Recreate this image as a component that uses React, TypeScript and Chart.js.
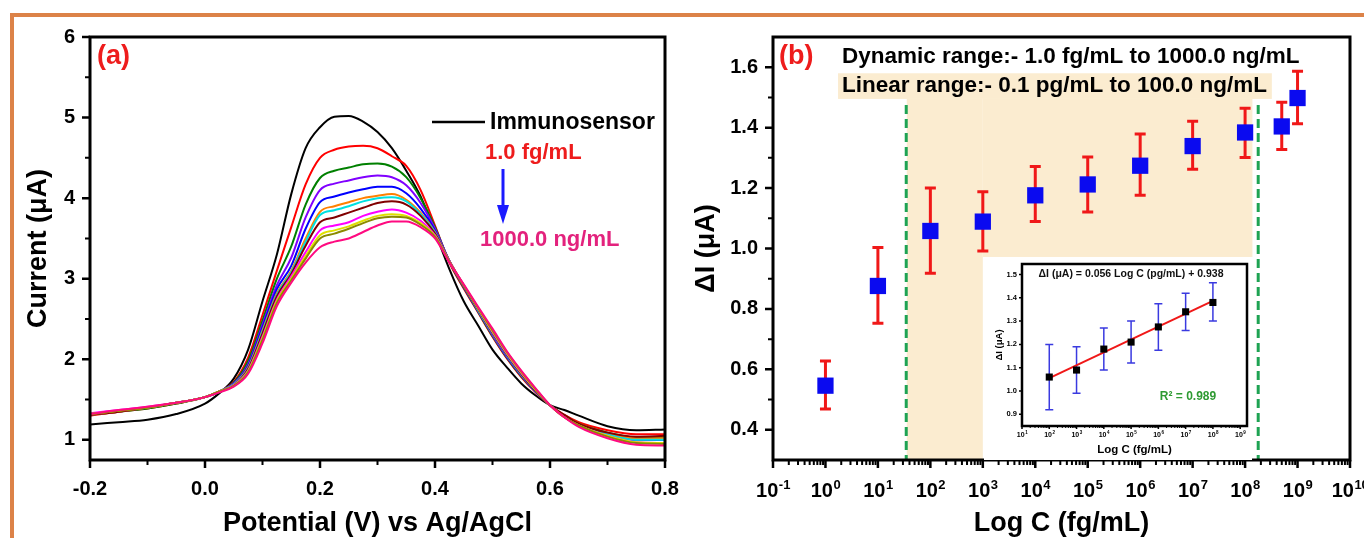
import React, { useEffect, useRef } from 'react';
import { Chart, registerables } from 'chart.js';
Chart.register(...registerables);

const FONT = "'Liberation Sans', Arial, Helvetica, sans-serif";
const ORANGE = '#dc8248';

// ---------------- Panel (a): DPV curves ----------------
const potentialV = [-0.2, -0.15, -0.1, -0.05, 0, 0.025, 0.05, 0.075, 0.1, 0.125, 0.15, 0.175, 0.2, 0.225, 0.25, 0.275, 0.3, 0.325, 0.35, 0.375, 0.4, 0.425, 0.45, 0.475, 0.5, 0.525, 0.55, 0.575, 0.6, 0.625, 0.65, 0.7, 0.75, 0.8];

const curveImmunosensor = [1.19, 1.22, 1.25, 1.32, 1.45, 1.58, 1.76, 2.12, 2.72, 3.30, 4.05, 4.62, 4.88, 5.01, 5.02, 4.95, 4.82, 4.62, 4.34, 4.02, 3.58, 3.12, 2.72, 2.42, 2.12, 1.90, 1.70, 1.55, 1.43, 1.37, 1.30, 1.17, 1.12, 1.13];
const curve1fg = [1.30, 1.35, 1.39, 1.45, 1.53, 1.60, 1.72, 2.02, 2.55, 3.10, 3.64, 4.17, 4.50, 4.60, 4.64, 4.65, 4.62, 4.52, 4.40, 4.10, 3.66, 3.20, 2.88, 2.58, 2.28, 2.01, 1.78, 1.59, 1.43, 1.31, 1.22, 1.12, 1.07, 1.07];
const curve10fg = [1.31, 1.35, 1.39, 1.45, 1.53, 1.60, 1.71, 1.98, 2.48, 3.00, 3.40, 3.92, 4.25, 4.34, 4.38, 4.42, 4.43, 4.39, 4.26, 4.00, 3.64, 3.21, 2.89, 2.59, 2.29, 2.02, 1.79, 1.60, 1.43, 1.30, 1.20, 1.09, 1.03, 1.03];
const curve100fg = [1.31, 1.35, 1.40, 1.46, 1.53, 1.60, 1.70, 1.94, 2.43, 2.92, 3.26, 3.76, 4.10, 4.18, 4.22, 4.26, 4.28, 4.26, 4.16, 3.94, 3.62, 3.22, 2.90, 2.60, 2.30, 2.03, 1.80, 1.60, 1.43, 1.30, 1.19, 1.08, 1.01, 1.00];
const curve1pg = [1.32, 1.36, 1.40, 1.46, 1.53, 1.60, 1.70, 1.92, 2.40, 2.87, 3.16, 3.62, 3.95, 4.02, 4.07, 4.11, 4.14, 4.14, 4.06, 3.87, 3.60, 3.22, 2.90, 2.60, 2.31, 2.04, 1.80, 1.60, 1.43, 1.29, 1.18, 1.07, 1.00, 1.00];
const curve10pg = [1.31, 1.35, 1.40, 1.46, 1.53, 1.60, 1.69, 1.90, 2.36, 2.82, 3.10, 3.50, 3.83, 3.90, 3.95, 4.00, 4.03, 4.05, 3.98, 3.82, 3.58, 3.22, 2.91, 2.61, 2.32, 2.05, 1.81, 1.61, 1.43, 1.30, 1.20, 1.08, 1.02, 1.02];
const curve100pg = [1.32, 1.36, 1.40, 1.46, 1.53, 1.60, 1.69, 1.89, 2.34, 2.80, 3.08, 3.46, 3.79, 3.85, 3.90, 3.96, 4.00, 4.01, 3.96, 3.80, 3.57, 3.22, 2.91, 2.61, 2.32, 2.05, 1.81, 1.61, 1.43, 1.29, 1.19, 1.07, 1.00, 1.00];
const curve1ng = [1.31, 1.35, 1.40, 1.46, 1.53, 1.60, 1.68, 1.88, 2.32, 2.78, 3.06, 3.41, 3.70, 3.76, 3.82, 3.88, 3.94, 3.96, 3.92, 3.78, 3.56, 3.22, 2.91, 2.62, 2.33, 2.06, 1.82, 1.61, 1.43, 1.31, 1.20, 1.09, 1.04, 1.05];
const curve10ng = [1.33, 1.37, 1.41, 1.46, 1.53, 1.60, 1.68, 1.86, 2.28, 2.74, 3.03, 3.33, 3.60, 3.66, 3.70, 3.78, 3.83, 3.86, 3.82, 3.72, 3.54, 3.22, 2.92, 2.63, 2.34, 2.07, 1.83, 1.62, 1.43, 1.28, 1.18, 1.05, 0.97, 0.96];
const curve100ng = [1.32, 1.36, 1.40, 1.46, 1.53, 1.60, 1.67, 1.85, 2.26, 2.72, 3.00, 3.28, 3.54, 3.60, 3.65, 3.72, 3.78, 3.80, 3.78, 3.69, 3.53, 3.21, 2.92, 2.63, 2.35, 2.08, 1.84, 1.62, 1.43, 1.28, 1.18, 1.05, 0.97, 0.96];
const curve500ng = [1.32, 1.36, 1.40, 1.46, 1.53, 1.60, 1.67, 1.84, 2.24, 2.70, 2.98, 3.25, 3.50, 3.56, 3.62, 3.69, 3.75, 3.77, 3.76, 3.67, 3.52, 3.21, 2.92, 2.64, 2.36, 2.09, 1.85, 1.63, 1.43, 1.28, 1.18, 1.04, 0.96, 0.95];
const curve1000ng = [1.32, 1.37, 1.41, 1.46, 1.53, 1.59, 1.66, 1.82, 2.20, 2.66, 2.95, 3.20, 3.39, 3.46, 3.50, 3.58, 3.66, 3.71, 3.71, 3.64, 3.50, 3.20, 2.93, 2.65, 2.38, 2.10, 1.86, 1.64, 1.43, 1.28, 1.16, 1.02, 0.94, 0.93];

const curves = [curveImmunosensor, curve1fg, curve10fg, curve100fg, curve1pg, curve10pg, curve100pg, curve1ng, curve10ng, curve100ng, curve500ng, curve1000ng];
const curveLabels = ['Immunosensor', '1.0 fg/mL', '10 fg/mL', '100 fg/mL', '1 pg/mL', '10 pg/mL', '100 pg/mL', '1 ng/mL', '10 ng/mL', '100 ng/mL', '500 ng/mL', '1000.0 ng/mL'];
const curveColors = ['#000000', '#ff0000', '#008000', '#8000ff', '#0000ff', '#ff8000', '#00e0e0', '#800000', '#ff00ff', '#e0e000', '#8a8a00', '#ff0a80'];

const xTicksA = [-0.2, 0, 0.2, 0.4, 0.6, 0.8];
const xMinorA = [-0.1, 0.1, 0.3, 0.5, 0.7];
const yTicksA = [1, 2, 3, 4, 5, 6];
const yMinorA = [1.5, 2.5, 3.5, 4.5, 5.5];

// ---------------- Panel (b): calibration ----------------
const concFg = [1, 10, 1e2, 1e3, 1e4, 1e5, 1e6, 1e7, 1e8, 5e8, 1e9];
const deltaI = [0.546, 0.876, 1.058, 1.089, 1.176, 1.212, 1.274, 1.339, 1.384, 1.404, 1.498];
const deltaILow = [0.469, 0.753, 0.918, 0.992, 1.089, 1.121, 1.176, 1.262, 1.301, 1.328, 1.413];
const deltaIHigh = [0.628, 1.003, 1.200, 1.188, 1.271, 1.303, 1.379, 1.421, 1.464, 1.484, 1.587];

const xDecadesB = [-1, 0, 1, 2, 3, 4, 5, 6, 7, 8, 9, 10];
const yTicksB = [0.4, 0.6, 0.8, 1.0, 1.2, 1.4, 1.6];
const yMinorB = [0.5, 0.7, 0.9, 1.1, 1.3, 1.5];

// inset (linear range)
const insetConc = [1e2, 1e3, 1e4, 1e5, 1e6, 1e7, 1e8];
const insetDeltaI = [1.06, 1.09, 1.18, 1.21, 1.275, 1.34, 1.38];
const insetLow = [0.92, 0.99, 1.09, 1.12, 1.175, 1.26, 1.30];
const insetHigh = [1.20, 1.19, 1.27, 1.30, 1.375, 1.42, 1.465];
const fitConc = [1e2, 1e8];
const fitDeltaI = [1.055, 1.387];
const insetDecades = [1, 2, 3, 4, 5, 6, 7, 8, 9];
const insetYTicks = [0.9, 1.0, 1.1, 1.2, 1.3, 1.4, 1.5];

const logMinors = (from: number, to: number, max: number) => {
  const out: number[] = [];
  for (let e = from; e < to; e++) for (let k = 2; k <= 9; k++) { const v = k * Math.pow(10, e); if (v < max) out.push(v); }
  return out;
};

const font = (size: number, lineHeight = 1.2) => ({ family: FONT, size, weight: 'bold' as const, lineHeight });

const makeFramePlugin = (cfg: any) => ({
  id: 'frameTicks',
  afterDraw(chart: any) {
    const { ctx, chartArea: a } = chart;
    const sx = chart.scales.x, sy = chart.scales.y;
    ctx.save();
    ctx.strokeStyle = '#000';
    const tick = (vals: number[], len: number, w: number, horiz: boolean) => {
      ctx.lineWidth = w;
      ctx.beginPath();
      for (const v of vals) {
        if (horiz) { const p = sx.getPixelForValue(v); ctx.moveTo(p, a.bottom); ctx.lineTo(p, a.bottom + len); }
        else { const p = sy.getPixelForValue(v); ctx.moveTo(a.left, p); ctx.lineTo(a.left - len, p); }
      }
      ctx.stroke();
    };
    tick(cfg.xMajor, cfg.majorLen, cfg.tickW, true);
    tick(cfg.xMinor, cfg.minorLen, cfg.minorW, true);
    tick(cfg.yMajor, cfg.majorLen, cfg.tickW, false);
    tick(cfg.yMinor, cfg.minorLen, cfg.minorW, false);
    ctx.lineWidth = cfg.frameW;
    ctx.strokeRect(a.left, a.top, a.right - a.left, a.bottom - a.top);
    if (cfg.powLabels) {
      const { exps, base, sup, baseline, rise } = cfg.powLabels;
      ctx.fillStyle = '#000';
      ctx.textBaseline = 'alphabetic';
      ctx.textAlign = 'left';
      for (const e of exps) {
        const p = sx.getPixelForValue(Math.pow(10, e));
        const expText = String(e);
        ctx.font = `bold ${base}px ${FONT}`;
        const wb = ctx.measureText('10').width;
        ctx.font = `bold ${sup}px ${FONT}`;
        const we = ctx.measureText(expText).width;
        const x0 = p - (wb + we) / 2;
        ctx.font = `bold ${base}px ${FONT}`;
        ctx.fillText('10', x0, a.bottom + baseline);
        ctx.font = `bold ${sup}px ${FONT}`;
        ctx.fillText(expText, x0 + wb + 0.5, a.bottom + baseline - rise);
      }
    }
    ctx.restore();
  },
});

const drawErrorBars = (chart: any, xs: number[], lows: number[], highs: number[], color: string, w: number, cap: number) => {
  const { ctx } = chart;
  const sx = chart.scales.x, sy = chart.scales.y;
  ctx.save();
  ctx.strokeStyle = color;
  ctx.lineWidth = w;
  ctx.beginPath();
  xs.forEach((x, i) => {
    const px = sx.getPixelForValue(x);
    const yl = sy.getPixelForValue(lows[i]);
    const yh = sy.getPixelForValue(highs[i]);
    ctx.moveTo(px, yl); ctx.lineTo(px, yh);
    ctx.moveTo(px - cap, yl); ctx.lineTo(px + cap, yl);
    ctx.moveTo(px - cap, yh); ctx.lineTo(px + cap, yh);
  });
  ctx.stroke();
  ctx.restore();
};

const hiddenGrid = (len: number) => ({ display: true, drawOnChartArea: false, drawTicks: true, tickLength: len, tickColor: 'rgba(0,0,0,0)' });

function makeChartA(canvas: HTMLCanvasElement) {
  const annot = {
    id: 'annotA',
    afterDatasetsDraw(chart: any) {
      const { ctx } = chart;
      ctx.save();
      ctx.textBaseline = 'middle';
      ctx.textAlign = 'left';
      ctx.font = `bold 27px ${FONT}`;
      ctx.fillStyle = '#ee1c1c';
      ctx.fillText('(a)', 97, 57);
      ctx.strokeStyle = '#000';
      ctx.lineWidth = 2.5;
      ctx.beginPath(); ctx.moveTo(432, 122); ctx.lineTo(485, 122); ctx.stroke();
      ctx.font = `bold 23px ${FONT}`;
      ctx.fillStyle = '#000';
      ctx.fillText('Immunosensor', 490, 123);
      ctx.font = `bold 22px ${FONT}`;
      ctx.fillStyle = '#ee1c1c';
      ctx.fillText('1.0 fg/mL', 485, 153);
      ctx.strokeStyle = '#1a1aff';
      ctx.fillStyle = '#1a1aff';
      ctx.lineWidth = 3;
      ctx.beginPath(); ctx.moveTo(503, 169); ctx.lineTo(503, 208); ctx.stroke();
      ctx.beginPath(); ctx.moveTo(497, 205); ctx.lineTo(509, 205); ctx.lineTo(503, 224); ctx.closePath(); ctx.fill();
      ctx.font = `bold 22px ${FONT}`;
      ctx.fillStyle = '#e3227d';
      ctx.fillText('1000.0 ng/mL', 480, 240);
      ctx.restore();
    },
  };
  return new Chart(canvas, {
    type: 'line',
    data: {
      datasets: curves.map((ys, i) => ({
        label: curveLabels[i],
        data: potentialV.map((x, j) => ({ x, y: ys[j] })),
        borderColor: curveColors[i],
        backgroundColor: curveColors[i],
        borderWidth: 2,
        pointRadius: 0,
        tension: 0.4,
        cubicInterpolationMode: 'monotone',
        fill: false,
        order: curves.length - i,
      })),
    },
    options: {
      animation: false,
      responsive: false,
      maintainAspectRatio: false,
      layout: { padding: { left: 0, top: 37, right: 35, bottom: 0 } },
      plugins: { legend: { display: false }, tooltip: { enabled: false } },
      scales: {
        x: {
          type: 'linear', min: -0.2, max: 0.8,
          afterBuildTicks: (s: any) => { s.ticks = xTicksA.map((v) => ({ value: v })); },
          afterFit: (s: any) => { s.height = 78; },
          ticks: { callback: (v: any) => Number(v).toFixed(1), font: font(20), color: '#000', padding: 9, maxRotation: 0, autoSkip: false },
          grid: hiddenGrid(8),
          border: { display: false },
          title: { display: true, text: 'Potential (V) vs Ag/AgCl', font: font(27, 1.0), color: '#000', padding: { top: 0, bottom: 1 } },
        },
        y: {
          type: 'linear', min: 0.75, max: 6,
          afterBuildTicks: (s: any) => { s.ticks = yTicksA.map((v) => ({ value: v })); },
          afterFit: (s: any) => { s.width = 90; },
          ticks: { callback: (v: any) => String(v), font: font(20), color: '#000', padding: 7 },
          grid: hiddenGrid(8),
          border: { display: false },
          title: { display: true, text: 'Current (μA)', font: font(27), color: '#000', padding: { top: 22, bottom: 0 } },
        },
      },
    } as any,
    plugins: [makeFramePlugin({ xMajor: xTicksA, xMinor: xMinorA, yMajor: yTicksA, yMinor: yMinorA, majorLen: 8, minorLen: 5, tickW: 2.5, minorW: 2, frameW: 3 }), annot],
  });
}

function makeChartB(canvas: HTMLCanvasElement) {
  const annot = {
    id: 'annotB',
    beforeDatasetsDraw(chart: any) {
      const { ctx, chartArea: a } = chart;
      const sx = chart.scales.x, sy = chart.scales.y;
      const px = (v: number) => sx.getPixelForValue(v);
      const py = (v: number) => sy.getPixelForValue(v);
      ctx.save();
      ctx.fillStyle = '#fbecd0';
      ctx.fillRect(px(Math.pow(10, 0.24)), py(1.58), px(Math.pow(10, 8.51)) - px(Math.pow(10, 0.24)), py(1.495) - py(1.58));
      ctx.fillRect(px(Math.pow(10, 1.55)), py(1.495), px(1e3) - px(Math.pow(10, 1.55)), a.bottom - py(1.495));
      ctx.fillRect(px(1e3), py(1.495), px(Math.pow(10, 8.14)) - px(1e3), py(0.972) - py(1.495));
      ctx.strokeStyle = '#1ea353';
      ctx.lineWidth = 3;
      ctx.setLineDash([9, 5]);
      [Math.pow(10, 1.54), Math.pow(10, 8.25)].forEach((v) => {
        ctx.beginPath(); ctx.moveTo(px(v), py(1.475)); ctx.lineTo(px(v), a.bottom); ctx.stroke();
      });
      ctx.setLineDash([]);
      ctx.textBaseline = 'middle';
      ctx.textAlign = 'left';
      ctx.font = `bold 27px ${FONT}`;
      ctx.fillStyle = '#ee1c1c';
      ctx.fillText('(b)', a.left + 6, 57);
      ctx.font = `bold 22.5px ${FONT}`;
      ctx.fillStyle = '#000';
      ctx.fillText('Dynamic range:- 1.0 fg/mL to 1000.0 ng/mL', a.left + 69, 57);
      ctx.fillText('Linear range:- 0.1 pg/mL to 100.0 ng/mL', a.left + 69, 86);
      ctx.restore();
      drawErrorBars(chart, concFg, deltaILow, deltaIHigh, '#f01818', 3, 5.5);
    },
  };
  return new Chart(canvas, {
    type: 'scatter',
    data: {
      datasets: [{
        label: 'ΔI',
        data: concFg.map((x, i) => ({ x, y: deltaI[i] })),
        pointStyle: 'rect',
        pointRadius: 11.5,
        backgroundColor: '#0a0af0',
        borderColor: '#0a0af0',
        borderWidth: 0,
      }],
    },
    options: {
      animation: false,
      responsive: false,
      maintainAspectRatio: false,
      layout: { padding: { left: 0, top: 37, right: 50, bottom: 0 } },
      plugins: { legend: { display: false }, tooltip: { enabled: false } },
      scales: {
        x: {
          type: 'logarithmic', min: 0.1, max: 1e10,
          afterBuildTicks: (s: any) => { s.ticks = xDecadesB.map((e) => ({ value: Math.pow(10, e) })); },
          afterFit: (s: any) => { s.height = 78; },
          ticks: { display: false },
          grid: hiddenGrid(8),
          border: { display: false },
          title: { display: true, text: 'Log C (fg/mL)', font: font(27, 1.0), color: '#000', padding: { top: 0, bottom: 1 } },
        },
        y: {
          type: 'linear', min: 0.3, max: 1.7,
          afterBuildTicks: (s: any) => { s.ticks = yTicksB.map((v) => ({ value: v })); },
          afterFit: (s: any) => { s.width = 93; },
          ticks: { callback: (v: any) => Number(v).toFixed(1), font: font(20), color: '#000', padding: 7 },
          grid: hiddenGrid(8),
          border: { display: false },
          title: { display: true, text: 'ΔI (μA)', font: font(27), color: '#000', padding: { top: 10, bottom: 0 } },
        },
      },
    } as any,
    plugins: [makeFramePlugin({
      xMajor: xDecadesB.map((e) => Math.pow(10, e)), xMinor: logMinors(-1, 10, 1e10), yMajor: yTicksB, yMinor: yMinorB,
      majorLen: 8, minorLen: 5, tickW: 2.5, minorW: 2, frameW: 3,
      powLabels: { exps: xDecadesB, base: 20, sup: 13, baseline: 37, rise: 8 },
    }), annot],
  });
}

function makeInset(canvas: HTMLCanvasElement) {
  const annot = {
    id: 'annotInset',
    beforeDatasetsDraw(chart: any) {
      drawErrorBars(chart, insetConc, insetLow, insetHigh, '#3a3ae0', 1.5, 4);
    },
    afterDatasetsDraw(chart: any) {
      const { ctx } = chart;
      ctx.save();
      ctx.textBaseline = 'middle';
      ctx.textAlign = 'center';
      ctx.font = `bold 10.5px ${FONT}`;
      ctx.fillStyle = '#111';
      ctx.fillText('ΔI (μA) = 0.056 Log C (pg/mL) + 0.938', 147, 17);
      ctx.font = `bold 12px ${FONT}`;
      ctx.fillStyle = '#2e9a32';
      ctx.fillText('R² = 0.989', 204, 140);
      ctx.restore();
    },
  };
  return new Chart(canvas, {
    type: 'scatter',
    data: {
      datasets: [
        {
          label: 'data',
          data: insetConc.map((x, i) => ({ x, y: insetDeltaI[i] })),
          pointStyle: 'rect', pointRadius: 5,
          backgroundColor: '#000', borderColor: '#000', borderWidth: 0,
          order: 0,
        },
        {
          label: 'fit',
          type: 'line',
          data: fitConc.map((x, i) => ({ x, y: fitDeltaI[i] })),
          borderColor: '#f01818', borderWidth: 2, pointRadius: 0, showLine: true, fill: false,
          order: 1,
        },
      ],
    },
    options: {
      animation: false,
      responsive: false,
      maintainAspectRatio: false,
      layout: { padding: { left: 0, top: 7, right: 4, bottom: 0 } },
      plugins: { legend: { display: false }, tooltip: { enabled: false } },
      scales: {
        x: {
          type: 'logarithmic', min: 10, max: Math.pow(10, 9.25),
          afterBuildTicks: (s: any) => { s.ticks = insetDecades.map((e) => ({ value: Math.pow(10, e) })); },
          afterFit: (s: any) => { s.height = 34; },
          ticks: { display: false },
          grid: hiddenGrid(3),
          border: { display: false },
          title: { display: true, text: 'Log C (fg/mL)', font: font(11.5), color: '#000', padding: { top: 0, bottom: 3 } },
        },
        y: {
          type: 'linear', min: 0.85, max: 1.545,
          afterBuildTicks: (s: any) => { s.ticks = insetYTicks.map((v) => ({ value: v })); },
          afterFit: (s: any) => { s.width = 38; },
          ticks: { callback: (v: any) => Number(v).toFixed(1), font: font(7.5), color: '#000', padding: 2 },
          grid: hiddenGrid(3),
          border: { display: false },
          title: { display: true, text: 'ΔI (μA)', font: font(9.5), color: '#000', padding: { top: 10, bottom: 0 } },
        },
      },
    } as any,
    plugins: [makeFramePlugin({
      xMajor: insetDecades.map((e) => Math.pow(10, e)), xMinor: logMinors(1, 10, Math.pow(10, 9.25)), yMajor: insetYTicks, yMinor: [],
      majorLen: 3, minorLen: 2, tickW: 1.5, minorW: 1, frameW: 2.5,
      powLabels: { exps: insetDecades, base: 7, sup: 4.5, baseline: 11, rise: 3 },
    }), annot],
  });
}

export default function App() {
  const refA = useRef<HTMLCanvasElement>(null);
  const refB = useRef<HTMLCanvasElement>(null);
  const refC = useRef<HTMLCanvasElement>(null);
  useEffect(() => {
    document.body.style.margin = '0';
    const charts = [makeChartA(refA.current!), makeChartB(refB.current!), makeInset(refC.current!)];
    return () => charts.forEach((c) => c.destroy());
  }, []);
  return (
    <div style={{ position: 'relative', width: 1364, height: 538, overflow: 'hidden', background: '#fff' }}>
      <div style={{ position: 'absolute', left: 10, top: 13, right: 0, height: 4, background: ORANGE }} />
      <div style={{ position: 'absolute', left: 10, top: 13, width: 4, bottom: 0, background: ORANGE }} />
      <canvas ref={refA} width={700} height={538} style={{ position: 'absolute', left: 0, top: 0 }} />
      <canvas ref={refB} width={720} height={538} style={{ position: 'absolute', left: 680, top: 0 }} />
      <canvas ref={refC} width={268} height={203} style={{ position: 'absolute', left: 984, top: 257, background: '#fff' }} />
    </div>
  );
}
